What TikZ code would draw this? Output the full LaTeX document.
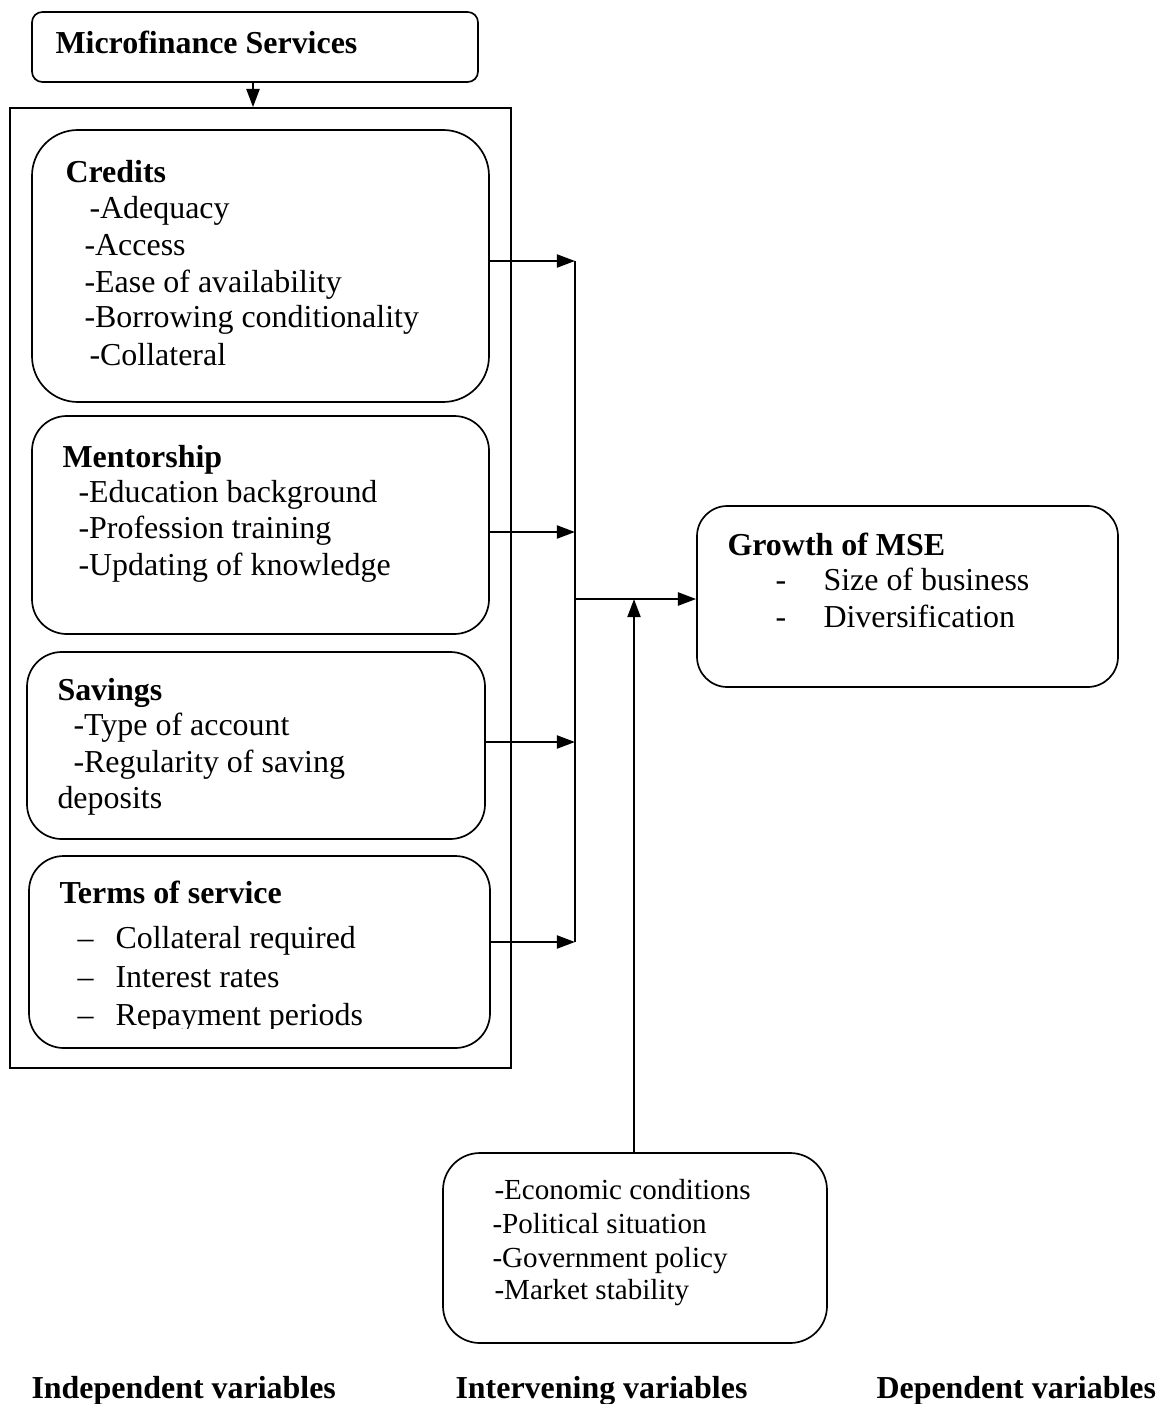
\documentclass[tikz,border=0pt]{standalone}
\usepackage{fontspec}
\setmainfont{Liberation Serif}
\usetikzlibrary{arrows.meta,fit}
\begin{document}
\begin{tikzpicture}[x=0.01353cm,y=-0.01353cm,
    box/.style={draw,line width=0.65pt,inner sep=0pt,rounded corners=#1},
    box/.default=0pt,
    arr/.style={line width=0.9pt,-{Triangle[length=7pt,width=5pt]}},
    title/.style={anchor=base west,inner sep=0pt,font=\fontsize{12.3}{14}\selectfont\bfseries},
    entry/.style={anchor=base west,inner sep=0pt,font=\fontsize{12.3}{14}\selectfont},
    factor/.style={anchor=base west,inner sep=0pt,font=\fontsize{11.2}{13}\selectfont}]
  \useasboundingbox (0,0) rectangle (1162,1404);

  % boxes
  \node[box=0.14cm,fit={(32,12) (478,82)}] (services) {};
  \node[box,fit={(10,108) (511,1068)}] (frame) {};
  \node[box=0.62cm,fit={(32,130) (489,402)}] (credits) {};
  \node[box=0.47cm,fit={(32,416) (489,634)}] (mentor) {};
  \node[box=0.47cm,fit={(27,652) (485,839)}] (savings) {};
  \node[box=0.47cm,fit={(29,856) (490,1048)}] (terms) {};
  \node[box=0.41cm,fit={(697,506) (1118,687)}] (growth) {};
  \node[box=0.5cm,fit={(443,1153) (827,1343)}] (factors) {};

  % texts
  \node[title] (services title) at (55,54) {Microfinance Services};
  \node[title] (credits title) at (65,182) {Credits};
  \foreach \x/\y/\t [count=\i] in {89/218/-Adequacy,84/255/-Access,84/292/-Ease of availability,84/327/-Borrowing conditionality,89/365/-Collateral}
    \node[entry] (credits\i) at (\x,\y) {\t};
  \node[title] (mentor title) at (62,467) {Mentorship};
  \foreach \y/\t [count=\i] in {502/-Education background,538/-Profession training,575/-Updating of knowledge}
    \node[entry] (mentor\i) at (78,\y) {\t};
  \node[title] (savings title) at (57,700) {Savings};
  \node[entry] (savings1) at (73,735) {-Type of account};
  \node[entry] (savings2) at (73,772) {-Regularity of saving};
  \node[entry] (savings3) at (57,808) {deposits};
  \node[title] (terms title) at (59,903) {Terms of service};
  \begin{scope}
    \clip (0,0) rectangle (1162,1028);
    \foreach \y/\t [count=\i] in {948/Collateral required,987/Interest rates,1025/Repayment periods}{
      \node[entry] (terms dash\i) at (77,\y) {–};
      \node[entry] (terms\i) at (115,\y) {\t};
    }
  \end{scope}
  \node[title] (growth title) at (727,555) {Growth of MSE};
  \foreach \y/\t [count=\i] in {590/Size of business,627/Diversification}{
    \node[entry] (growth dash\i) at (775,\y) {-};
    \node[entry] (growth\i) at (823,\y) {\t};
  }
  \foreach \x/\y/\t [count=\i] in {494/1199/-Economic conditions,492/1233/-Political situation,492/1267/-Government policy,494/1299/-Market stability}
    \node[factor] (factors\i) at (\x,\y) {\t};
  \node[title] (independent) at (31,1398) {Independent variables};
  \node[title] (intervening) at (455,1398) {Intervening variables};
  \node[title] (dependent) at (876,1398) {Dependent variables};

  % connectors
  \coordinate (drop) at (253,0);
  \coordinate (bus1) at (575,261);
  \coordinate (bus2) at (575,532);
  \coordinate (bus3) at (575,742);
  \coordinate (bus4) at (575,942);
  \coordinate (join) at (575,599);
  \coordinate (lift) at (634,599);
  \draw[arr] (services.south -| drop) -- (frame.north -| drop);
  \draw[line width=0.65pt] (bus1) -- (bus4);
  \foreach \src [count=\i] in {credits,mentor,savings,terms}
    \draw[arr] (\src.east |- bus\i) -- (bus\i);
  \draw[arr] (join) -- (growth.west |- join);
  \draw[arr] (factors.north -| lift) -- (lift);
\end{tikzpicture}
\end{document}
